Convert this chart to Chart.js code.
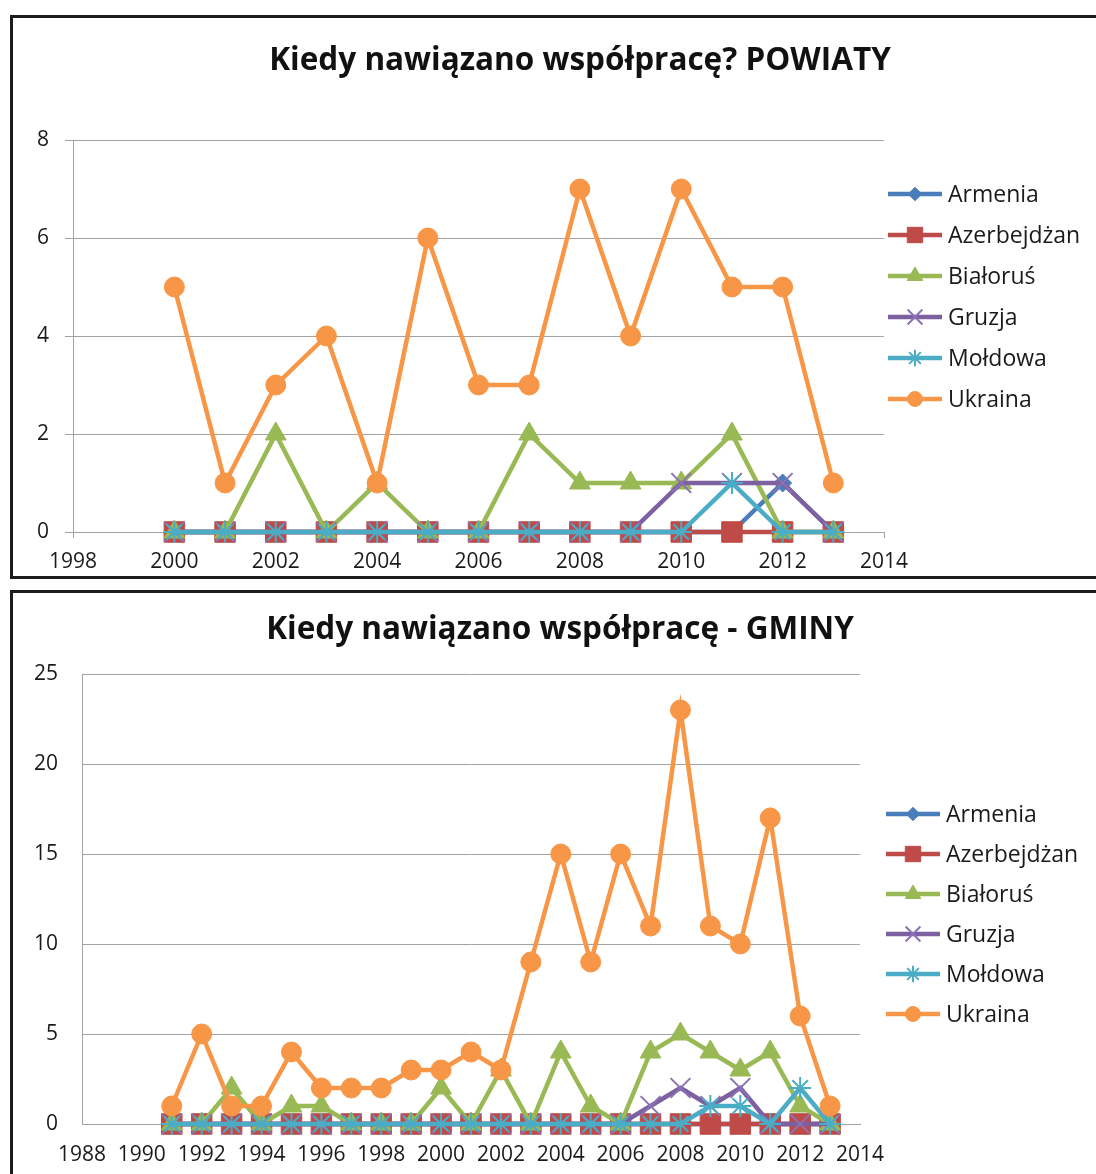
<!DOCTYPE html>
<html lang="pl">
<head>
<meta charset="utf-8">
<title>Kiedy nawiązano współpracę</title>
<script src="https://cdn.jsdelivr.net/npm/chart.js@4.4.1/dist/chart.umd.min.js"></script>
<style>
  body { margin: 0; background: #fff; width: 1096px; height: 1174px; position: relative; overflow: hidden; }
  .box { position: absolute; border: 3px solid #1c1c1c; box-sizing: border-box; }
  #box1 { left: 10px; top: 15px; width: 1200px; height: 564px; }
  #box2 { left: 10px; top: 590px; width: 1200px; height: 700px; }
  canvas { position: absolute; left: 0; }
  #powiatyChart { top: 0; }
  #gminyChart { top: 590px; }
</style>
</head>
<body>
<div class="box" id="box1"></div>
<div class="box" id="box2"></div>
<canvas id="powiatyChart" width="1096" height="580"></canvas>
<canvas id="gminyChart" width="1096" height="584"></canvas>
<script>
// series names and look (same for both charts)
const countries = ["Armenia", "Azerbejdżan", "Białoruś", "Gruzja", "Mołdowa", "Ukraina"];
const lineColors = ["#4a7ebb", "#be4b48", "#98b954", "#7d60a0", "#4bacc6", "#f79646"];
const markerColors = ["#4a7ebb", "#be4b48", "#98b954", "#8c72b4", "#4bacc6", "#f79646"];
const markers = ["rectRot", "rect", "triangle", "crossRot", "star", "circle"];
const markerSizes = [9, 14.5, 12, 14, 11, 10];

// POWIATY
const powiatyYears = [2000, 2001, 2002, 2003, 2004, 2005, 2006, 2007, 2008, 2009, 2010, 2011, 2012, 2013];
const powiatyArmenia     = [0, 0, 0, 0, 0, 0, 0, 0, 0, 0, 0, 0, 1, 0];
const powiatyAzerbejdzan = [0, 0, 0, 0, 0, 0, 0, 0, 0, 0, 0, 0, 0, 0];
const powiatyBialorus    = [0, 0, 2, 0, 1, 0, 0, 2, 1, 1, 1, 2, 0, 0];
const powiatyGruzja      = [0, 0, 0, 0, 0, 0, 0, 0, 0, 0, 1, 1, 1, 0];
const powiatyMoldowa     = [0, 0, 0, 0, 0, 0, 0, 0, 0, 0, 0, 1, 0, 0];
const powiatyUkraina     = [5, 1, 3, 4, 1, 6, 3, 3, 7, 4, 7, 5, 5, 1];

// GMINY
const gminyYears = [1991, 1992, 1993, 1994, 1995, 1996, 1997, 1998, 1999, 2000, 2001, 2002,
                    2003, 2004, 2005, 2006, 2007, 2008, 2009, 2010, 2011, 2012, 2013];
const gminyArmenia     = [0, 0, 0, 0, 0, 0, 0, 0, 0, 0, 0, 0, 0, 0, 0, 0, 0, 0, 0, 0, 0, 0, 0];
const gminyAzerbejdzan = [0, 0, 0, 0, 0, 0, 0, 0, 0, 0, 0, 0, 0, 0, 0, 0, 0, 0, 0, 0, 0, 0, 0];
const gminyBialorus    = [0, 0, 2, 0, 1, 1, 0, 0, 0, 2, 0, 3, 0, 4, 1, 0, 4, 5, 4, 3, 4, 1, 0];
const gminyGruzja      = [0, 0, 0, 0, 0, 0, 0, 0, 0, 0, 0, 0, 0, 0, 0, 0, 1, 2, 1, 2, 0, 0, 0];
const gminyMoldowa     = [0, 0, 0, 0, 0, 0, 0, 0, 0, 0, 0, 0, 0, 0, 0, 0, 0, 0, 1, 1, 0, 2, 0];
const gminyUkraina     = [1, 5, 1, 1, 4, 2, 2, 2, 3, 3, 4, 3, 9, 15, 9, 15, 11, 23, 11, 10, 17, 6, 1];

const FONT = '"Open Sans", "DejaVu Sans", sans-serif';
const GRID = "#a3a3a3";

function makeDatasets(years, seriesList) {
    return seriesList.map((values, i) => ({
        label: countries[i],
        data: values.map((v, k) => ({ x: years[k], y: v })),
        borderColor: lineColors[i],
        backgroundColor: markerColors[i],
        borderWidth: 4.5,
        pointStyle: markers[i],
        pointRadius: markerSizes[i],
        pointBackgroundColor: markerColors[i],
        pointBorderColor: markerColors[i],
        pointBorderWidth: (markers[i] === "crossRot" || markers[i] === "star") ? 2 : 1,
        tension: 0,
        clip: false,
        // Excel draws the first series at the bottom
        order: seriesList.length - i
    }));
}

// title + line/marker legend like in Excel
const decorPlugin = {
    id: "decor",
    afterDraw(chart, args, opts) {
        const ctx = chart.ctx;
        ctx.save();
        ctx.fillStyle = "#111";
        ctx.textAlign = "center";
        ctx.textBaseline = "middle";
        ctx.font = "bold " + opts.titleSize + "px " + FONT;
        ctx.fillText(opts.title, opts.titleX, opts.titleY);

        ctx.font = opts.legendSize + "px " + FONT;
        chart.data.datasets.forEach((ds, i) => {
            const y = opts.legendY + i * opts.legendGap;
            ctx.strokeStyle = ds.borderColor;
            ctx.lineWidth = 4.5;
            ctx.beginPath();
            ctx.moveTo(opts.legendX, y);
            ctx.lineTo(opts.legendX + opts.lineLen, y);
            ctx.stroke();

            ctx.fillStyle = ds.pointBackgroundColor;
            ctx.strokeStyle = ds.pointBorderColor;
            ctx.lineWidth = ds.pointBorderWidth;
            Chart.helpers.drawPoint(ctx, {
                pointStyle: ds.pointStyle,
                radius: ds.pointRadius * 0.75,
                rotation: 0,
                borderWidth: ds.pointBorderWidth
            }, opts.legendX + opts.lineLen / 2, y);

            ctx.fillStyle = "#1a1a1a";
            ctx.textAlign = "left";
            ctx.fillText(ds.label, opts.legendX + opts.lineLen + 6, y + 1);
        });
        ctx.restore();
    }
};

function makeChart(canvasId, years, seriesList, cfg) {
    const ctx = document.getElementById(canvasId).getContext("2d");
    return new Chart(ctx, {
        type: "line",
        data: { datasets: makeDatasets(years, seriesList) },
        options: {
            responsive: false,
            animation: false,
            events: [],
            layout: { padding: cfg.padding },
            scales: {
                x: {
                    type: "linear",
                    min: cfg.xMin,
                    max: cfg.xMax,
                    afterFit: scale => { scale.height = 40; },
                    border: { color: GRID, width: 1 },
                    grid: { drawOnChartArea: false, drawTicks: cfg.ticks, tickLength: 6, color: GRID },
                    ticks: {
                        stepSize: 2,
                        autoSkip: false,
                        maxRotation: 0,
                        minRotation: 0,
                        padding: cfg.xPad,
                        color: "#1a1a1a",
                        font: { family: FONT, size: 21 },
                        callback: v => String(v)
                    }
                },
                y: {
                    min: 0,
                    max: cfg.yMax,
                    afterFit: scale => { scale.width = cfg.yWidth; },
                    border: { color: GRID, width: 1 },
                    grid: { color: GRID, drawTicks: cfg.ticks, tickLength: 8 },
                    ticks: {
                        stepSize: cfg.yStep,
                        padding: cfg.yPad,
                        color: "#1a1a1a",
                        font: { family: FONT, size: 21 }
                    }
                }
            },
            plugins: {
                legend: { display: false },
                tooltip: { enabled: false },
                title: { display: false },
                decor: cfg.decor
            }
        },
        plugins: [decorPlugin]
    });
}

makeChart("powiatyChart", powiatyYears,
    [powiatyArmenia, powiatyAzerbejdzan, powiatyBialorus, powiatyGruzja, powiatyMoldowa, powiatyUkraina], {
        padding: { left: 0, top: 140, right: 212, bottom: 8 },
        xMin: 1998, xMax: 2014, yMax: 8, yStep: 2,
        yWidth: 73, ticks: true, xPad: 11, yPad: 16,
        decor: {
            title: "Kiedy nawiązano współpracę? POWIATY",
            titleX: 580, titleY: 61, titleSize: 31.5,
            legendX: 888, legendY: 194, legendGap: 41, lineLen: 54, legendSize: 23
        }
    });

makeChart("gminyChart", gminyYears,
    [gminyArmenia, gminyAzerbejdzan, gminyBialorus, gminyGruzja, gminyMoldowa, gminyUkraina], {
        padding: { left: 0, top: 84, right: 236, bottom: 10 },
        xMin: 1988, xMax: 2014, yMax: 25, yStep: 5,
        yWidth: 82, ticks: false, xPad: 18, yPad: 24,
        decor: {
            title: "Kiedy nawiązano współpracę - GMINY",
            titleX: 560, titleY: 40, titleSize: 31.5,
            legendX: 886, legendY: 224, legendGap: 40, lineLen: 54, legendSize: 23
        }
    });
</script>
</body>
</html>
